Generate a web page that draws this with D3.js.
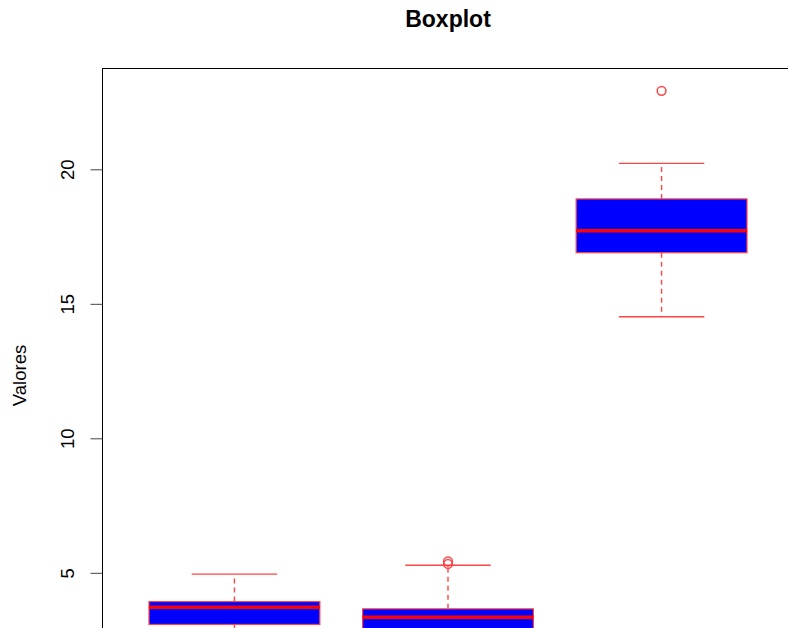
<!DOCTYPE html>
<html>
<head>
<meta charset="utf-8">
<script src="https://cdn.jsdelivr.net/npm/d3@7"></script>
<style>
  html, body { margin: 0; padding: 0; background: #fff; overflow: hidden; }
  text { font-family: "Liberation Sans", Arial, Helvetica, sans-serif; }
</style>
</head>
<body>
<script>
// Five-number summaries per group (box positions 1..3) plus outliers
const groupIndex    = [1, 2, 3];
const lowerWhisker  = [2.35, 1.75, 14.52];
const lowerQuartile = [3.08, 2.75, 16.90];
const medians       = [3.72, 3.35, 17.72];
const upperQuartile = [3.93, 3.66, 18.90];
const upperWhisker  = [4.95, 5.28, 20.22];
const outliers      = [[], [5.33, 5.42], [22.92]];
const yTicks        = [5, 10, 15, 20];

const W = 788, H = 628;
const plot = { left: 102, top: 68, right: 794, bottom: 683 };

const svg = d3.select("body").append("svg")
  .attr("width", W).attr("height", H);

// Data range padded by 4% on each side
const allVals = lowerWhisker.concat(upperWhisker, outliers.flat());
const lo = d3.min(allVals), hi = d3.max(allVals);
const pad = (hi - lo) * 0.04;

const y = d3.scaleLinear().domain([lo - pad, hi + pad]).range([plot.bottom, plot.top]);
const x = d3.scaleLinear().domain([0.38, 3.62]).range([plot.left, plot.right]);

const boxW = x(1.8) - x(1);
const capW = boxW * 0.5;
const red = "#ff0000";
const softRed = "#ff4545";

const boxes = svg.append("g").selectAll("g")
  .data(groupIndex.map((g, i) => ({
    g, lw: lowerWhisker[i], q1: lowerQuartile[i], med: medians[i],
    q3: upperQuartile[i], uw: upperWhisker[i], out: outliers[i]
  })))
  .join("g");

// Dashed whiskers
boxes.append("line")
  .attr("x1", d => x(d.g)).attr("x2", d => x(d.g))
  .attr("y1", d => y(d.q3)).attr("y2", d => y(d.uw))
  .attr("stroke", softRed).attr("stroke-width", 1.4).attr("stroke-dasharray", "5,4");
boxes.append("line")
  .attr("x1", d => x(d.g)).attr("x2", d => x(d.g))
  .attr("y1", d => y(d.q1)).attr("y2", d => y(d.lw))
  .attr("stroke", softRed).attr("stroke-width", 1.4).attr("stroke-dasharray", "5,4");

// Whisker caps
["lw", "uw"].forEach(k => {
  boxes.append("line")
    .attr("x1", d => x(d.g) - capW / 2).attr("x2", d => x(d.g) + capW / 2)
    .attr("y1", d => y(d[k])).attr("y2", d => y(d[k]))
    .attr("stroke", softRed).attr("stroke-width", 1.4);
});

// Boxes
boxes.append("rect")
  .attr("x", d => x(d.g) - boxW / 2)
  .attr("width", boxW)
  .attr("y", d => y(d.q3))
  .attr("height", d => y(d.q1) - y(d.q3))
  .attr("fill", "#0000ff")
  .attr("stroke", softRed).attr("stroke-width", 1.2);

// Medians
boxes.append("line")
  .attr("x1", d => x(d.g) - boxW / 2).attr("x2", d => x(d.g) + boxW / 2)
  .attr("y1", d => y(d.med)).attr("y2", d => y(d.med))
  .attr("stroke", red).attr("stroke-width", 3.5);

// Outliers
boxes.selectAll("circle")
  .data(d => d.out.map(v => ({ g: d.g, v })))
  .join("circle")
  .attr("cx", d => x(d.g)).attr("cy", d => y(d.v))
  .attr("r", 4.4)
  .attr("fill", "none").attr("stroke", softRed).attr("stroke-width", 1.5);

// Plot frame
svg.append("rect")
  .attr("x", plot.left + 0.5).attr("y", plot.top + 0.5)
  .attr("width", plot.right - plot.left).attr("height", plot.bottom - plot.top)
  .attr("fill", "none").attr("stroke", "#000").attr("stroke-width", 1);

// Y axis
const yAxis = d3.axisLeft(y).tickValues(yTicks).tickSize(12).tickPadding(0).tickFormat(d3.format("d"));
const ag = svg.append("g").attr("transform", `translate(${plot.left + 0.5},0)`).call(yAxis);
ag.select(".domain").remove();
ag.selectAll(".tick line").attr("stroke", "#444");
ag.selectAll(".tick text")
  .attr("font-size", 18.5).attr("fill", "#000")
  .attr("text-anchor", "middle")
  .attr("x", 0).attr("dy", 0)
  .attr("transform", "translate(-29,0) rotate(-90)")
  .attr("y", 0)
  .attr("dominant-baseline", "auto");

// Y axis title
svg.append("text")
  .attr("transform", `translate(26,${(plot.top + plot.bottom) / 2}) rotate(-90)`)
  .attr("text-anchor", "middle")
  .attr("font-size", 18.5)
  .text("Valores");

// Main title
svg.append("text")
  .attr("x", (plot.left + plot.right) / 2).attr("y", 27)
  .attr("text-anchor", "middle")
  .attr("font-size", 23).attr("font-weight", "bold")
  .text("Boxplot");
</script>
</body>
</html>
